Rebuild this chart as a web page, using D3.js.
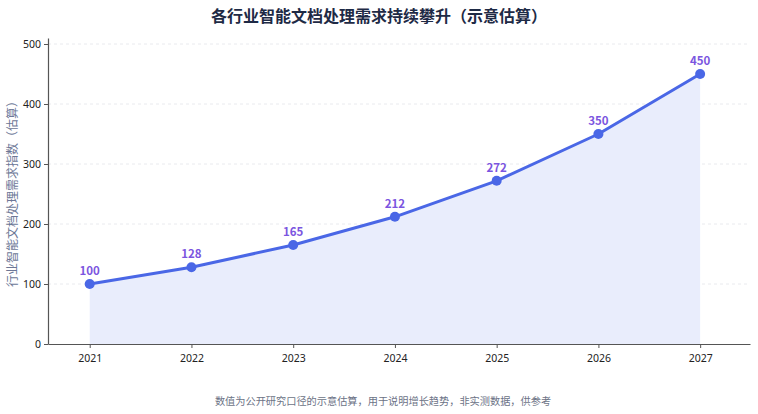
<!DOCTYPE html>
<html>
<head>
<meta charset="utf-8">
<script src="https://cdn.jsdelivr.net/npm/d3@7"></script>
<style>
  body { margin: 0; background: #fff; }
  svg { display: block; font-family: "Noto Sans CJK SC", "Noto Sans", sans-serif; }
</style>
</head>
<body>
<div id="chart"></div>
<script>
const years = [2021, 2022, 2023, 2024, 2025, 2026, 2027];
const demandIndex = [100, 128, 165, 212, 272, 350, 450];
const yTicks = [0, 100, 200, 300, 400, 500];

const titleText = "各行业智能文档处理需求持续攀升（示意估算）";
const yLabelText = "行业智能文档处理需求指数（估算）";
const noteText = "数值为公开研究口径的示意估算，用于说明增长趋势，非实测数据，供参考";

const width = 758, height = 414;
const margin = { top: 38, right: 8, bottom: 70, left: 48 };

const data = years.map((y, i) => ({ year: y, value: demandIndex[i] }));

const svg = d3.select("#chart").append("svg")
  .attr("width", width)
  .attr("height", height);

const x = d3.scaleLinear()
  .domain([2020.59, 2027.49])
  .range([margin.left, width - margin.right]);

const y = d3.scaleLinear()
  .domain([0, 510])
  .range([height - margin.bottom, margin.top]);

// grid
svg.append("g")
  .selectAll("line")
  .data(yTicks.filter(d => d > 0))
  .join("line")
  .attr("x1", margin.left)
  .attr("x2", width - margin.right)
  .attr("y1", d => y(d))
  .attr("y2", d => y(d))
  .attr("stroke", "#e3e5ea")
  .attr("stroke-width", 0.8)
  .attr("stroke-dasharray", "3,3");

// area under the line
const area = d3.area()
  .x(d => x(d.year))
  .y0(y(0))
  .y1(d => y(d.value));

svg.append("path")
  .datum(data)
  .attr("d", area)
  .attr("fill", "#e9edfc");

const line = d3.line()
  .x(d => x(d.year))
  .y(d => y(d.value));

svg.append("path")
  .datum(data)
  .attr("d", line)
  .attr("fill", "none")
  .attr("stroke", "#4a67e6")
  .attr("stroke-width", 3)
  .attr("stroke-linejoin", "round");

svg.append("g")
  .selectAll("circle")
  .data(data)
  .join("circle")
  .attr("cx", d => x(d.year))
  .attr("cy", d => y(d.value))
  .attr("r", 5)
  .attr("fill", "#4a67e6");

svg.append("g")
  .selectAll("text")
  .data(data)
  .join("text")
  .attr("x", d => x(d.year))
  .attr("y", d => y(d.value) - 9)
  .attr("text-anchor", "middle")
  .attr("font-size", 11.5)
  .attr("font-weight", "bold")
  .attr("fill", "#7b55e0")
  .text(d => d.value);

// axes
const xAxis = svg.append("g")
  .attr("transform", `translate(0,${y(0)})`)
  .call(d3.axisBottom(x).tickValues(years).tickFormat(d3.format("d")).tickSize(4).tickSizeOuter(0));

const yAxis = svg.append("g")
  .attr("transform", `translate(${margin.left},0)`)
  .call(d3.axisLeft(y).tickValues(yTicks).tickSize(4).tickSizeOuter(0));

[xAxis, yAxis].forEach(a => {
  a.select(".domain").attr("stroke", "#555").attr("stroke-width", 1.2);
  a.selectAll(".tick line").attr("stroke", "#555");
  a.selectAll(".tick text").attr("font-size", 10.5).attr("fill", "#222")
    .attr("font-family", "'Noto Sans', sans-serif");
});
xAxis.selectAll(".tick text").attr("dy", "1.05em");

// titles
svg.append("text")
  .attr("x", width / 2)
  .attr("y", 22)
  .attr("text-anchor", "middle")
  .attr("font-size", 16)
  .attr("font-weight", "bold")
  .attr("fill", "#1e2a45")
  .text(titleText);

svg.append("text")
  .attr("transform", `translate(17,${(margin.top + y(0)) / 2}) rotate(-90)`)
  .attr("text-anchor", "middle")
  .attr("font-size", 12)
  .attr("fill", "#6c7796")
  .text(yLabelText);

svg.append("text")
  .attr("x", 383)
  .attr("y", 405)
  .attr("text-anchor", "middle")
  .attr("font-size", 10.2)
  .attr("fill", "#6c7386")
  .text(noteText);
</script>
</body>
</html>
